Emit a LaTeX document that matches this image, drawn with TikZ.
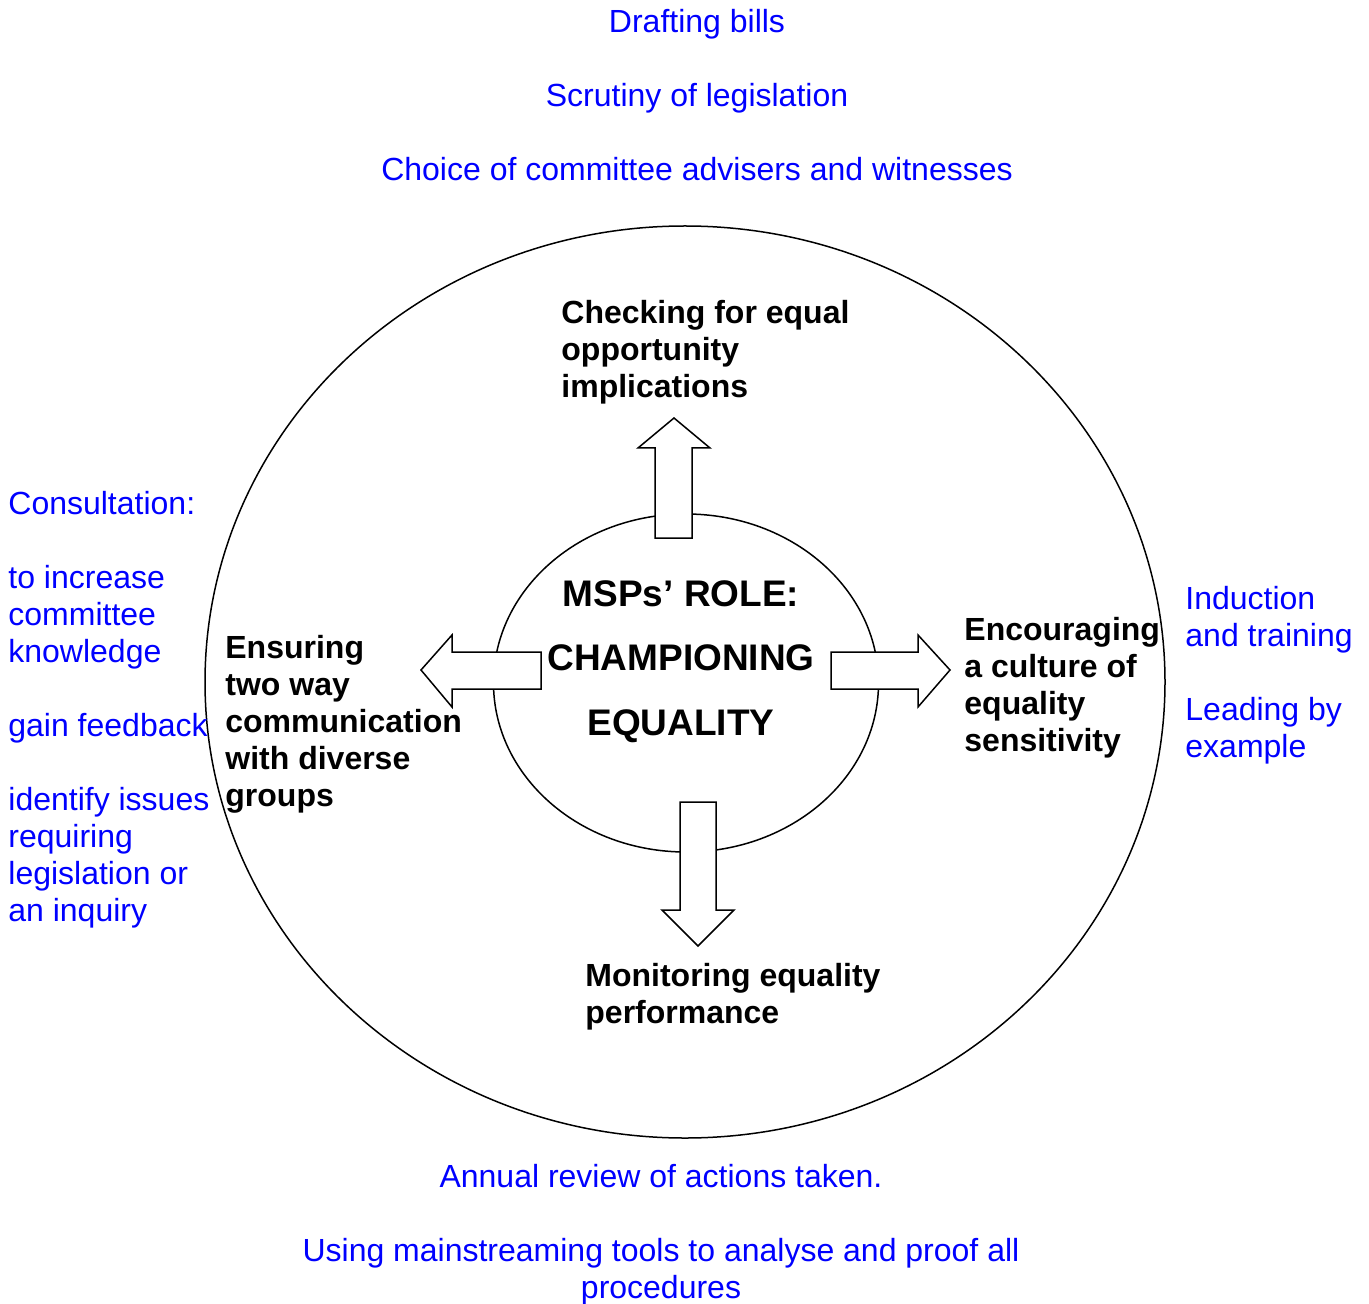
\documentclass[tikz,border=0pt]{standalone}
\usepackage{fontspec}
\setmainfont{Liberation Sans}
\usepackage{tikz}
\usetikzlibrary{shapes.geometric}

\tikzset{
  note/.style = {text=blue, font=\fontsize{16}{18.5}\selectfont, inner sep=0pt},
  task/.style = {font=\bfseries\fontsize{16}{18.5}\selectfont, inner sep=0pt, align=left, anchor=base west},
  ring/.style = {draw, ellipse, line width=0.75pt, inner sep=0pt},
  blockarrow/.style = {draw=black, fill=white, line width=0.75pt, line join=miter},
}

\begin{document}
\begin{tikzpicture}[x=0.5pt, y=-0.5pt]
\useasboundingbox (0,0) rectangle (1369,1304);

\node[ring, minimum width=480pt, minimum height=456pt] (outer) at (685,682) {};
\node[ring, minimum width=192.5pt, minimum height=169pt] (role) at (686,683) {};

\filldraw[blockarrow] (655,538) -- (655,448) -- (638,448) -- (674,418) -- (710,448) -- (692,448) -- (692,538) -- cycle;
\filldraw[blockarrow] (831,652) -- (918,652) -- (918,635) -- (950,670) -- (918,707) -- (918,689) -- (831,689) -- cycle;
\filldraw[blockarrow] (541,652) -- (452,652) -- (452,635) -- (421,670) -- (452,707) -- (452,689) -- (541,689) -- cycle;
\filldraw[blockarrow] (680,802) -- (680,910) -- (662,910) -- (698,946) -- (734,910) -- (716,910) -- (716,802) -- cycle;

% anchors sit on the baseline of the last line
\node[font=\bfseries\fontsize{18.5}{32.25}\selectfont, align=center, anchor=base, inner sep=0pt] (champ) at (681,735) {MSPs’ ROLE:\\CHAMPIONING\\EQUALITY};

\node[task] (check) at (561,398) {Checking for equal\\opportunity\\implications};
\node[task] (ensure) at (225,806) {Ensuring\\two way\\communication\\with diverse\\groups};
\node[task] (encourage) at (964,751) {Encouraging\\a culture of\\equality\\sensitivity};
\node[task] (monitor) at (585,1023) {Monitoring equality\\performance};

\node[note, align=center, anchor=base] (bills) at (697,181) {Drafting bills\\[18.5pt]Scrutiny of legislation\\[18.5pt]Choice of committee advisers and witnesses};
\node[note, align=left, anchor=base west] (consult) at (8,921) {Consultation:\\[18.5pt]to increase\\committee\\knowledge\\[18.5pt]gain feedback\\[18.5pt]identify issues\\requiring\\legislation or\\an inquiry};
\node[note, align=left, anchor=base west] (induct) at (1185,757) {Induction\\and training\\[18.5pt]Leading by\\example};
\node[note, align=center, anchor=base] (review) at (661,1298) {Annual review of actions taken.\\[18.5pt]Using mainstreaming tools to analyse and proof all\\procedures};
\end{tikzpicture}
\end{document}
